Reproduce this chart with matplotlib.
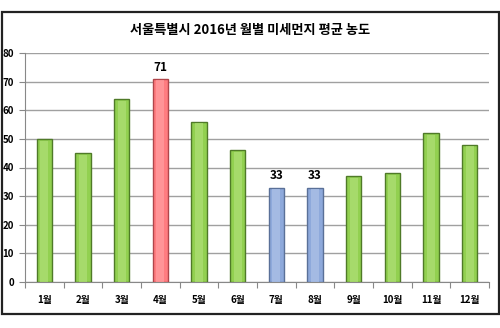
import matplotlib
matplotlib.use("Agg")
import matplotlib.pyplot as plt
from matplotlib.patches import Rectangle

plt.rcParams['font.family'] = ['Noto Sans CJK KR', 'DejaVu Sans']

months = ['1월', '2월', '3월', '4월', '5월', '6월', '7월', '8월', '9월', '10월', '11월', '12월']
values = [50, 45, 64, 71, 56, 46, 33, 33, 37, 38, 52, 48]
kinds = ['g', 'g', 'g', 'r', 'g', 'g', 'b', 'b', 'g', 'g', 'g', 'g']
labeled = [False, False, False, True, False, False, True, True, False, False, False, False]
title = '서울특별시 2016년 월별 미세먼지 평균 농도'
yticks = [0, 10, 20, 30, 40, 50, 60, 70, 80]

face = {'g': '#92D050', 'r': '#FF7C80', 'b': '#8EA9DB'}
edge = {'g': '#4F7A28', 'r': '#B0454A', 'b': '#5A7098'}
light = {'g': '#B5E27E', 'r': '#FFA5A8', 'b': '#B4C7EA'}

fig = plt.figure(figsize=(5, 3.28), dpi=100)
fig.patches.append(Rectangle((0.003, 1 - 314/328), 0.994, (314-12)/328, transform=fig.transFigure,
                             fill=False, edgecolor='#222222', linewidth=1.6))
ax = fig.add_axes([25/500, 1 - 282/328, (489-25)/500, (282-53)/328])

x = list(range(len(months)))
fc = [face[k] for k in kinds]
ec = [edge[k] for k in kinds]
ax.bar(x, values, width=0.4, color=fc, edgecolor=ec, linewidth=1.0, zorder=3)
# highlight strip for bevel look
ax.bar(x, [v - 0.6 for v in values], width=0.2, color=[light[k] for k in kinds], linewidth=0, zorder=4, alpha=0.6)

for xi, v, lab in zip(x, values, labeled):
    if lab:
        ax.text(xi, v + 1.8, str(v), ha='center', va='bottom', fontsize=8.5, fontweight='bold')

ax.set_xlim(-0.5, len(months) - 0.5)
ax.set_ylim(0, 80)
ax.set_yticks(yticks)
ax.set_yticklabels([str(t) for t in yticks], fontsize=7, fontweight='bold')
ax.yaxis.grid(True, color='#A0A0A0', linewidth=1.0, zorder=0)
ax.set_axisbelow(True)

ax.set_xticks([i + 0.5 for i in range(-1, len(months))])
ax.set_xticklabels([])
ax.set_xticks(x, minor=True)
ax.set_xticklabels(months, minor=True, fontsize=7, fontweight='bold')
ax.tick_params(axis='x', which='minor', length=0, pad=9)
ax.tick_params(axis='x', which='major', length=4, color='#888888', direction='out')
ax.tick_params(axis='y', length=4, color='#888888', pad=4)

for s in ['top', 'right']:
    ax.spines[s].set_visible(False)
ax.spines['left'].set_color('#888888')
ax.spines['bottom'].set_color('#888888')

fig.text(0.5, 1 - 30/328, title, ha='center', va='center', fontsize=9.5, fontweight='bold')

fig.savefig('out.png', dpi=100)
